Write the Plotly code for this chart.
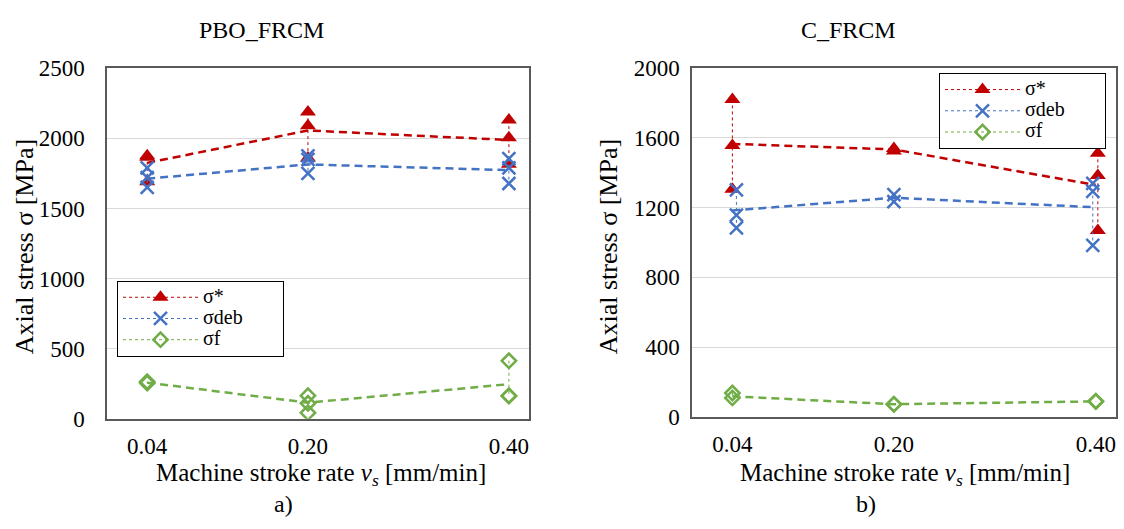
import plotly.graph_objects as go

# ---------------- data ----------------
rates = [0.04, 0.20, 0.40]
rate_labels = ["0.04", "0.20", "0.40"]

# PBO_FRCM (left)
pbo_star = [[1875, 1865, 1690], [2187, 2090, 1860], [2130, 2005, 1815]]
pbo_star_mean = [1825, 2056, 1988]
pbo_deb = [[1790, 1720, 1650], [1875, 1850, 1750], [1855, 1790, 1678]]
pbo_deb_mean = [1712, 1814, 1773]
pbo_f = [[265, 255], [165, 111, 43], [414, 165, 162]]
pbo_f_mean = [258, 115, 247]

# C_FRCM (right)
c_star_x = [0.040, 0.200, 0.402]
c_star = [[1821, 1557, 1306], [1540, 1525], [1512, 1384, 1069]]
c_star_mean = [1566, 1534, 1330]
c_deb_x = [0.044, 0.200, 0.397]
c_deb = [[1302, 1157, 1084], [1275, 1235], [1339, 1293, 984]]
c_deb_mean = [1184, 1257, 1202]
c_f_x = [0.040, 0.200, 0.400]
c_f = [[137, 109], [73, 72], [91, 88]]
c_f_mean = [118, 73, 89]

series_names = ["σ*", "σdeb", "σf"]
left_yticks = [0, 500, 1000, 1500, 2000, 2500]
right_yticks = [0, 400, 800, 1200, 1600, 2000]

# ---------------- styles ----------------
RED, BLUE, GREEN = "#C00000", "#4472C4", "#70AD47"
FONT = "Liberation Serif"
markers = [
    dict(symbol="triangle-up", size=14, color=RED, line=dict(width=0)),
    dict(symbol="x-thin-open", size=13, color=BLUE, line=dict(width=2.5, color=BLUE)),
    dict(symbol="diamond-open", size=11, color=GREEN, line=dict(width=2.5, color=GREEN)),
]
colors = [RED, BLUE, GREEN]
NBSP = "\u00a0"


def legend_label(name):
    return "<span style='font-size:20px'>" + name + NBSP * 7 + "</span>"


def flatten(xpos, groups):
    xs, ys = [], []
    for x, g in zip(xpos, groups):
        for v in g:
            xs.append(x)
            ys.append(v)
        xs.append(None)
        ys.append(None)
    return xs, ys


fig = go.Figure()


def add_panel(xaxis, yaxis, legend, series_x, series_vals, means):
    for i in range(3):
        fig.add_trace(go.Scatter(
            x=rates, y=means[i], mode="lines", xaxis=xaxis, yaxis=yaxis,
            line=dict(color=colors[i], width=2.5, dash="8px,5px"),
            showlegend=False, hoverinfo="skip"))
    for i in range(3):
        xs, ys = flatten(series_x[i], series_vals[i])
        fig.add_trace(go.Scatter(
            x=xs, y=ys, mode="lines+markers", name=legend_label(series_names[i]),
            xaxis=xaxis, yaxis=yaxis, legend=legend,
            line=dict(color=colors[i], width=1, dash="dot"),
            marker=markers[i], connectgaps=False))


add_panel("x", "y", "legend", [rates, rates, rates],
          [pbo_star, pbo_deb, pbo_f], [pbo_star_mean, pbo_deb_mean, pbo_f_mean])
add_panel("x2", "y2", "legend2", [c_star_x, c_deb_x, c_f_x],
          [c_star, c_deb, c_f], [c_star_mean, c_deb_mean, c_f_mean])

W, H = 1124, 529
def px(x):
    return x / W
def py(y):
    return (H - y) / H

axis_common = dict(showline=True, mirror=True, linecolor="#595959", linewidth=1.5,
                   ticks="", tickfont=dict(family=FONT, size=23, color="black"),
                   zeroline=False)

leg_common = dict(xanchor="left", yanchor="top",
                  bordercolor="black", borderwidth=1, bgcolor="white",
                  font=dict(family=FONT, size=14, color="black"), itemwidth=75,
                  tracegroupgap=0)

fig.update_layout(
    width=W, height=H, margin=dict(l=0, r=0, t=0, b=0),
    paper_bgcolor="white", plot_bgcolor="white",
    font=dict(family=FONT, color="black"),
    xaxis=dict(domain=[px(107), px(529)], range=[0, 0.42], tickvals=rates,
               ticktext=rate_labels, showgrid=False, anchor="y",
               ticklabelstandoff=6, **axis_common),
    yaxis=dict(domain=[py(427), py(59)], range=[0, 2500], tickvals=left_yticks,
               showgrid=True, gridcolor="#D9D9D9", gridwidth=1, anchor="x",
               ticklabelstandoff=16, **axis_common),
    xaxis2=dict(domain=[px(692), px(1116)], range=[0, 0.42], tickvals=rates,
                ticktext=rate_labels, showgrid=False, anchor="y2",
                ticklabelstandoff=6, **axis_common),
    yaxis2=dict(domain=[py(425), py(59)], range=[0, 2000], tickvals=right_yticks,
                showgrid=True, gridcolor="#D9D9D9", gridwidth=1, anchor="x2",
                ticklabelstandoff=6, **axis_common),
    legend=dict(x=px(117), y=py(282), **leg_common),
    legend2=dict(x=px(939), y=py(64), **leg_common),
)

ann = [
    dict(text="PBO_FRCM", x=px(261), y=py(19), size=24),
    dict(text="C_FRCM", x=px(848), y=py(19), size=24),
    dict(text="Machine stroke rate <i>v<sub>s</sub></i> [mm/min]", x=px(321), y=py(485), size=25),
    dict(text="Machine stroke rate <i>v<sub>s</sub></i> [mm/min]", x=px(905), y=py(485), size=25),
    dict(text="a)", x=px(283), y=py(516), size=24),
    dict(text="b)", x=px(866), y=py(516), size=24),
]
for a in ann:
    size = a.pop("size")
    fig.add_annotation(xref="paper", yref="paper", showarrow=False,
                       xanchor="center", yanchor="middle",
                       font=dict(family=FONT, size=size, color="black"), **a)
for xc, yc in [(24, 246), (608, 246)]:
    fig.add_annotation(text="Axial stress σ [MPa]", xref="paper", yref="paper",
                       x=px(xc), y=py(yc), showarrow=False, textangle=-90,
                       xanchor="center", yanchor="middle",
                       font=dict(family=FONT, size=26, color="black"))

fig.write_html("out.html")
